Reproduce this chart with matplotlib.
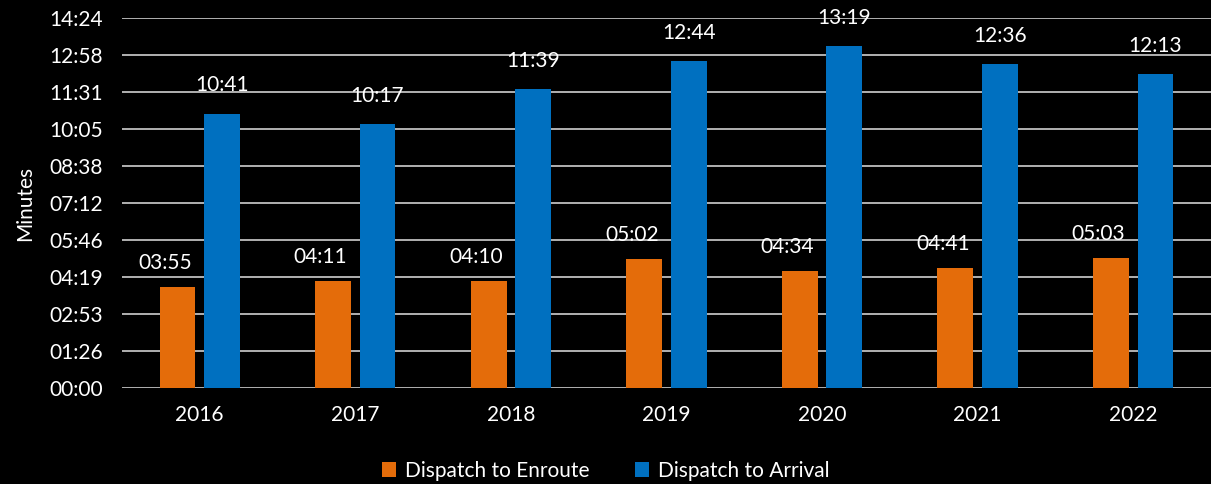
import numpy as np
import matplotlib.pyplot as plt
from matplotlib.ticker import FuncFormatter, MultipleLocator

plt.rcParams['font.family'] = ['Lato', 'DejaVu Sans']

years = ['2016', '2017', '2018', '2019', '2020', '2021', '2022']
enroute = ['03:55', '04:11', '04:10', '05:02', '04:34', '04:41', '05:03']
arrival = ['10:41', '10:17', '11:39', '12:44', '13:19', '12:36', '12:13']


def to_sec(s):
    m, sec = s.split(':')
    return int(m) * 60 + int(sec)


def fmt(v, pos=None):
    v = int(round(v))
    return '%02d:%02d' % (v // 60, v % 60)


enr = np.array([to_sec(s) for s in enroute])
arr = np.array([to_sec(s) for s in arrival])

orange = '#E46C0A'
blue = '#0070C0'

fig = plt.figure(figsize=(12.11, 4.84), dpi=100, facecolor='black')
ax = fig.add_axes([0.1007, 0.1983, 0.8993, 0.7645], facecolor='black')

x = np.arange(len(years))
w = 0.23
b1 = ax.bar(x - 0.143, enr, w, color=orange, label='Dispatch to Enroute', zorder=3)
b2 = ax.bar(x + 0.143, arr, w, color=blue, label='Dispatch to Arrival', zorder=3)

for r, v in zip(b1, enr):
    ax.annotate(fmt(v), (r.get_x() + r.get_width() / 2, v), xytext=(-9, 10),
                textcoords='offset points', ha='center', va='bottom',
                color='white', fontsize=15)
for r, v in zip(b2, arr):
    ax.annotate(fmt(v), (r.get_x() + r.get_width() / 2, v), xytext=(0, 13),
                textcoords='offset points', ha='center', va='bottom',
                color='white', fontsize=15)

ax.set_xlim(-0.5, 6.5)
ax.set_ylim(0, 864)
ax.yaxis.set_major_locator(MultipleLocator(86.4))
ax.yaxis.set_major_formatter(FuncFormatter(fmt))
ax.set_xticks(x)
ax.set_xticklabels(years)
ax.tick_params(colors='white', labelsize=15, length=0)
ax.tick_params(axis='y', pad=14)
ax.tick_params(axis='x', pad=12)
ax.grid(axis='y', color='#bfbfbf', linewidth=1.3, zorder=0)
for s in ax.spines.values():
    s.set_visible(False)
ax.set_ylabel('Minutes', color='white', fontsize=15, labelpad=10)

fig.legend(handles=[b1, b2], loc='center', bbox_to_anchor=(0.5, 0.027), ncol=2,
           frameon=False, fontsize=15, labelcolor='white', handlelength=0.7,
           handleheight=0.7, handletextpad=0.4, columnspacing=2.2)

fig.savefig('out.png', dpi=100, facecolor='black')
